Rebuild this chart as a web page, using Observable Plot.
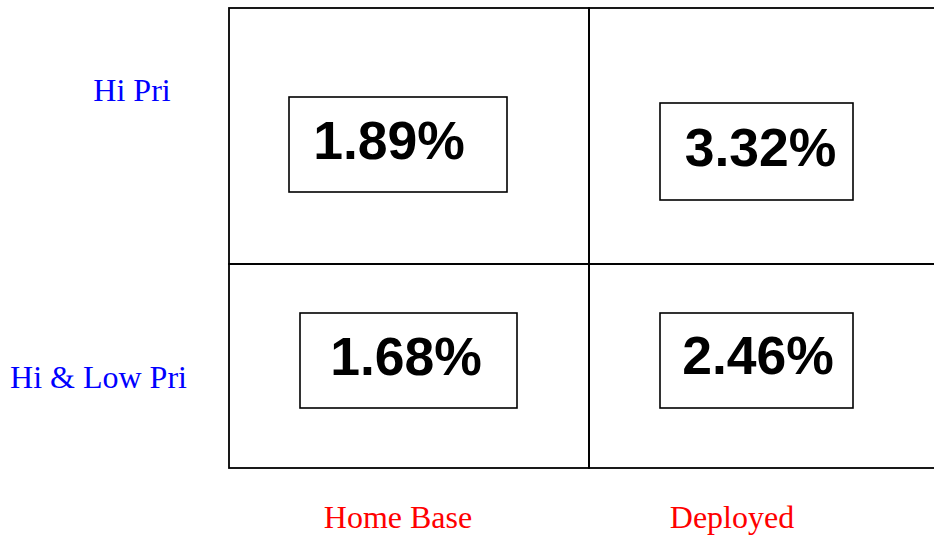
<!DOCTYPE html>
<html>
<head>
<meta charset="utf-8">
<script src="https://cdn.jsdelivr.net/npm/d3@7"></script>
<script src="https://cdn.jsdelivr.net/npm/@observablehq/plot@0.6"></script>
<style>
  html, body { margin: 0; padding: 0; background: #fff; }
  #chart svg { display: block; }
</style>
</head>
<body>
<div id="chart"></div>
<script>
// ---- data ----
const columns = ["Home Base", "Deployed"];
const rows = ["Hi Pri", "Hi & Low Pri"];
const hiPri = [1.89, 3.32];
const hiLowPri = [1.68, 2.46];

// ---- table built from the arrays ----
const seriesByRow = {"Hi Pri": hiPri, "Hi & Low Pri": hiLowPri};
const cells = rows.flatMap(r => columns.map((c, i) => ({row: r, col: c, value: seriesByRow[r][i]})));
const fmt = v => v.toFixed(2) + "%";

// ---- layout tweaks (styling only) ----
const boxInsets = {
  "Hi Pri|Home Base":        {insetLeft: 60, insetRight: 82, insetTop: 89, insetBottom: 46, dx: -20.5, dy: 35},
  "Hi Pri|Deployed":         {insetLeft: 71, insetRight: 96, insetTop: 95, insetBottom: 38, dx: -9,    dy: 42},
  "Hi & Low Pri|Home Base":  {insetLeft: 71, insetRight: 72, insetTop: 75, insetBottom: 60, dx: -3.5,  dy: 21},
  "Hi & Low Pri|Deployed":   {insetLeft: 71, insetRight: 96, insetTop: 75, insetBottom: 60, dx: -11.5, dy: 20}
};
const rowLabelOffsets = {"Hi Pri": {dx: -97.5, dy: -23}, "Hi & Low Pri": {dx: -131, dy: 34}};
const colLabelOffsets = {"Home Base": {dx: -11.5}, "Deployed": {dx: -37.5}};

const marks = [];
// grid cells (rows of unequal height)
marks.push(Plot.cell(cells.filter(d => d.row === rows[0]), {x: "col", y: "row", fill: "none", stroke: "#000", strokeWidth: 1.8, insetBottom: -26}));
marks.push(Plot.cell(cells.filter(d => d.row === rows[1]), {x: "col", y: "row", fill: "none", stroke: "#000", strokeWidth: 1.8, insetTop: 26}));

// value boxes and value texts
for (const d of cells) {
  const o = boxInsets[d.row + "|" + d.col];
  marks.push(Plot.rect([d], {x: "col", y: "row", fill: "none", stroke: "#000", strokeWidth: 1.6,
    insetLeft: o.insetLeft, insetRight: o.insetRight, insetTop: o.insetTop, insetBottom: o.insetBottom}));
  marks.push(Plot.text([d], {x: "col", y: "row", text: d => fmt(d.value), fontFamily: "Liberation Sans, Arial, sans-serif",
    fontWeight: "bold", fontSize: 53.5, fill: "#000", textAnchor: "middle", lineAnchor: "bottom", dx: o.dx, dy: o.dy,
    style: {letterSpacing: "-0.3px"}}));
}

// row labels
for (const r of rows) {
  const o = rowLabelOffsets[r];
  marks.push(Plot.text([r], {y: d => d, text: d => d, frameAnchor: "left", textAnchor: "middle", lineAnchor: "bottom",
    fontFamily: "Liberation Serif, Times New Roman, serif", fontSize: 32, fill: "#0000FF", dx: o.dx, dy: o.dy}));
}
// column labels
for (const c of columns) {
  const o = colLabelOffsets[c];
  marks.push(Plot.text([c], {x: d => d, text: d => d, frameAnchor: "bottom", textAnchor: "middle", lineAnchor: "bottom",
    fontFamily: "Liberation Serif, Times New Roman, serif", fontSize: 32, fill: "#FF0000", dx: o.dx, dy: 59}));
}

const chart = Plot.plot({
  width: 934,
  height: 535,
  marginLeft: 229,
  marginRight: -15,
  marginTop: 8,
  marginBottom: 67,
  x: {type: "band", domain: columns, padding: 0, axis: null},
  y: {type: "band", domain: rows, padding: 0, axis: null},
  style: {background: "#fff", overflow: "hidden"},
  marks
});
document.getElementById("chart").appendChild(chart);
</script>
</body>
</html>
